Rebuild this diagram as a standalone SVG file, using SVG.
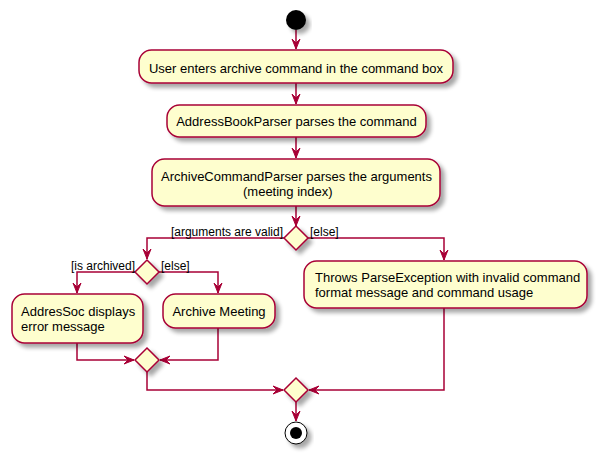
<svg xmlns="http://www.w3.org/2000/svg" width="603" height="460" viewBox="0 0 603 460">
<style>
.n{fill:#FEFECE;stroke:#A80036;stroke-width:1.5;filter:url(#sh)}
.t{font-family:"Liberation Sans",Arial,sans-serif;font-size:13px;fill:#000}
.l{font-family:"Liberation Sans",Arial,sans-serif;font-size:12px;fill:#000}
.c{fill:none;stroke:#A80036;stroke-width:1.5;marker-end:url(#ah)}
</style>
<defs>
<filter id="sh" x="-20%" y="-20%" width="150%" height="160%">
<feGaussianBlur in="SourceAlpha" stdDeviation="2"/>
<feOffset dx="4" dy="4" result="b"/>
<feComponentTransfer><feFuncA type="linear" slope="0.35"/></feComponentTransfer>
<feMerge><feMergeNode/><feMergeNode in="SourceGraphic"/></feMerge>
</filter>
<marker id="ah" markerUnits="userSpaceOnUse" markerWidth="12" markerHeight="10" refX="10" refY="4" orient="auto" overflow="visible">
<path d="M0,0 L10,4 L0,8 L4,4 Z" fill="#A80036" stroke="#A80036" stroke-width="1"/>
</marker>
</defs>
<g id="connectors">
<path class="c" d="M296,30 V49"/>
<path class="c" d="M296,83 V104"/>
<path class="c" d="M296,137 V158"/>
<path class="c" d="M296,206 V226"/>
<path class="c" d="M284,238 H147 V259"/>
<path class="c" d="M308,238 H444 V260"/>
<path class="c" d="M135,272 H77 V293"/>
<path class="c" d="M159,272 H218 V293"/>
<path class="c" d="M77,343 V360 H134"/>
<path class="c" d="M218,328 V360 H160"/>
<path class="c" d="M147,372 V390 H283"/>
<path class="c" d="M444,308 V390 H309"/>
<path class="c" d="M296,402 V421"/>
</g>
<g id="start"><circle cx="296" cy="20" r="10" fill="#000" filter="url(#sh)"/></g>
<g id="n1"><rect class="n" x="139" y="50" width="314" height="33" rx="12.5"/><text class="t" x="296" y="73" text-anchor="middle">User enters archive command in the command box</text></g>
<g id="n2"><rect class="n" x="167" y="105" width="259" height="32" rx="12.5"/><text class="t" x="296.5" y="126" text-anchor="middle">AddressBookParser parses the command</text></g>
<g id="n3"><rect class="n" x="152" y="159" width="288" height="47" rx="12.5"/><text class="t" x="296.5" y="180.5" text-anchor="middle">ArchiveCommandParser parses the arguments</text><text class="t" x="243" y="195.5">(meeting index)</text></g>
<g id="d1"><polygon class="n" points="296,226 308,238 296,250 284,238"/></g>
<text class="l" x="283" y="236" text-anchor="end">[arguments are valid]</text>
<text class="l" x="310" y="236">[else]</text>
<g id="d2"><polygon class="n" points="147,260 159,272 147,284 135,272"/></g>
<text class="l" x="135" y="270" text-anchor="end">[is archived]</text>
<text class="l" x="161" y="270">[else]</text>
<g id="n4"><rect class="n" x="12" y="294" width="131" height="49" rx="12.5"/><text class="t" x="21" y="316">AddresSoc displays</text><text class="t" x="21" y="331">error message</text></g>
<g id="n5"><rect class="n" x="163" y="294" width="112" height="34" rx="12.5"/><text class="t" x="219" y="316" text-anchor="middle">Archive Meeting</text></g>
<g id="n6"><rect class="n" x="304" y="261" width="283" height="47" rx="12.5"/><text class="t" x="315" y="282">Throws ParseException with invalid command</text><text class="t" x="315" y="297">format message and command usage</text></g>
<g id="d3"><polygon class="n" points="147,348 159,360 147,372 135,360"/></g>
<g id="d4"><polygon class="n" points="296,378 308,390 296,402 284,390"/></g>
<g id="end"><circle cx="296" cy="433" r="11" fill="#fff" stroke="#000" stroke-width="1" filter="url(#sh)"/><circle cx="296" cy="433" r="6" fill="#000"/></g>
</svg>
